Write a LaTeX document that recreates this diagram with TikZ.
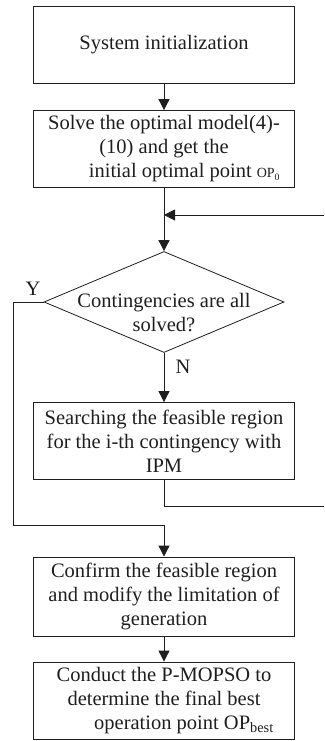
\documentclass[tikz,border=0pt]{standalone}
\usepackage{fontspec}
\setmainfont{Liberation Serif}
\usepackage{xcolor}
\definecolor{ink}{HTML}{1E1E1E}
\usetikzlibrary{arrows.meta, positioning, shapes.geometric}

\begin{document}
\begin{tikzpicture}[x=1pt, y=-1pt,
  every node/.append style={font=\fontsize{20.5}{24}\selectfont, text=ink},
  proc/.style={draw=ink, minimum width=261pt, minimum height=77pt,
               align=center, inner sep=0pt, line width=0.8pt},
  decision/.style={draw=ink, diamond, minimum width=240pt,
                   minimum height=101pt, inner sep=0pt, line width=0.8pt},
  arr/.style={-{Triangle[length=11pt,width=11pt]}, line width=0.8pt, ink},
  wire/.style={line width=0.8pt, ink}
]
\useasboundingbox (0,0) rectangle (324,741);

\node[proc] (init)   at (164,45)  {System initialization};
\node[proc] (solve)  at (164,149)
  {Solve the optimal model(4)-\\(10) and get the\\
   \hspace*{41pt}initial optimal point {\fontsize{14}{14}\selectfont OP\textsubscript{0}}};
\node[decision] (check) at (164,302) {};
\node[align=center] (checktxt) at (164,313) {Contingencies are all\\solved?};
\node[proc] (search) at (164,441)
  {Searching the feasible region\\for the i-th contingency with\\IPM};
\node[proc, minimum height=79pt] (confirm) at (164,596.5)
  {Confirm the feasible region\\and modify the limitation of\\generation};
\node[proc] (best)   at (164,700.5)
  {Conduct the P-MOPSO to\\determine the final best\\
   \hspace*{40pt}operation point OP\textsubscript{best}};

\coordinate (merge)   at (164,215);
\coordinate (backin)  at (324,215);
\coordinate (backout) at (324,506);
\coordinate (ydown)   at (13,525);
\coordinate (yjoin)   at (164,525);

\draw[arr] (init) -- (solve);
\draw[wire] (solve) -- (merge);
\draw[arr] (backin) -- (merge);
\draw[arr] (merge) -- (check);
\draw[arr] (check) -- (search);
\draw[wire] (search.south) |- (backout);
\draw[wire] (check.west) -| (ydown) -- (yjoin);
\draw[arr] (yjoin) -- (confirm);
\draw[arr] (confirm) -- (best);

\node (ylab) at (33,289) {Y};
\node (nlab) at (183,367) {N};

\end{tikzpicture}
\end{document}
